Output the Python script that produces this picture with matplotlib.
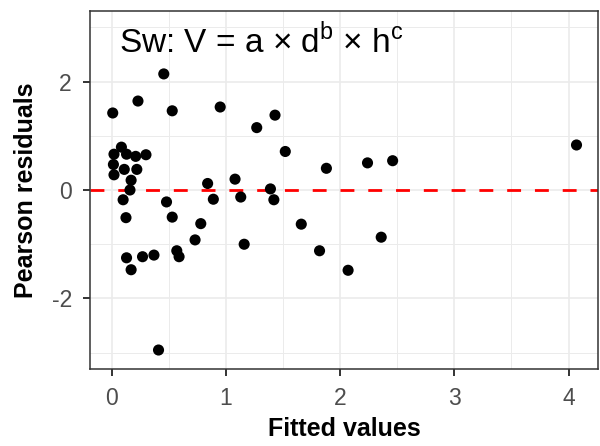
import matplotlib
matplotlib.use("Agg")
import matplotlib.pyplot as plt
from matplotlib.ticker import MultipleLocator

plt.rcParams['font.family'] = ['Liberation Sans', 'DejaVu Sans']
plt.rcParams['axes.unicode_minus'] = False

fitted = [0.009, 0.23, 0.456, 0.53, 0.95, 1.27, 1.43, 1.52, 1.88, 2.24, 2.46, 4.07,
          0.085, 0.02, 0.13, 0.21, 0.30, 0.015, 0.11, 0.22, 0.02, 0.17, 0.16,
          0.84, 1.08, 1.39, 0.10, 0.48, 0.89, 1.13, 1.42,
          0.125, 0.53, 0.78, 0.73, 1.16, 0.57, 0.59, 0.37, 0.27, 0.13, 0.17, 0.41,
          1.66, 1.82, 2.36, 2.07]
residuals = [1.42, 1.64, 2.14, 1.46, 1.53, 1.15, 1.38, 0.71, 0.40, 0.50, 0.54, 0.83,
             0.79, 0.66, 0.66, 0.62, 0.65, 0.47, 0.38, 0.38, 0.28, 0.18, 0.00,
             0.12, 0.20, 0.02, -0.18, -0.22, -0.17, -0.13, -0.18,
             -0.51, -0.50, -0.62, -0.92, -1.00, -1.12, -1.23, -1.20, -1.23, -1.25, -1.47, -2.95,
             -0.63, -1.12, -0.87, -1.48]
x_ticks = [0, 1, 2, 3, 4]
y_ticks = [-2, 0, 2]

fig = plt.figure(figsize=(6, 4.46), dpi=100)
ax = fig.add_axes([0.15, 1 - 369/446, 0.847, (369 - 11)/446])

ax.set_xlim(-0.19, 4.26)
ax.set_ylim(-3.3, 3.3)
ax.set_xticks(x_ticks)
ax.set_yticks(y_ticks)
ax.xaxis.set_minor_locator(MultipleLocator(0.5))
ax.yaxis.set_minor_locator(MultipleLocator(1))
ax.grid(which='major', color='#EBEBEB', lw=1.2, zorder=0)
ax.grid(which='minor', color='#EBEBEB', lw=0.7, zorder=0)
ax.tick_params(which='minor', length=0)
ax.tick_params(which='major', length=5, width=1.4, color='#333333',
               labelsize=16.5, labelcolor='#4D4D4D')
ax.tick_params(axis='x', pad=8)
ax.tick_params(axis='y', pad=8)
for s in ax.spines.values():
    s.set_color('#333333')
    s.set_linewidth(1.1)
ax.set_axisbelow(True)

ax.axhline(0, color='#FF0000', lw=2, ls=(0, (5, 5)), zorder=2)
ax.scatter(fitted, residuals, s=64, color='black', edgecolors='none', zorder=3)

ax.set_xlabel('Fitted values', fontsize=18, fontweight='bold', labelpad=5)
ax.set_ylabel('Pearson residuals', fontsize=18, fontweight='bold', labelpad=10)

ax.text(0.057, 0.883, r'Sw: V = a × d$^{\mathregular{b}}$ × h$^{\mathregular{c}}$',
        transform=ax.transAxes, fontsize=24, va='baseline', ha='left')

fig.savefig('out.png', dpi=100)
